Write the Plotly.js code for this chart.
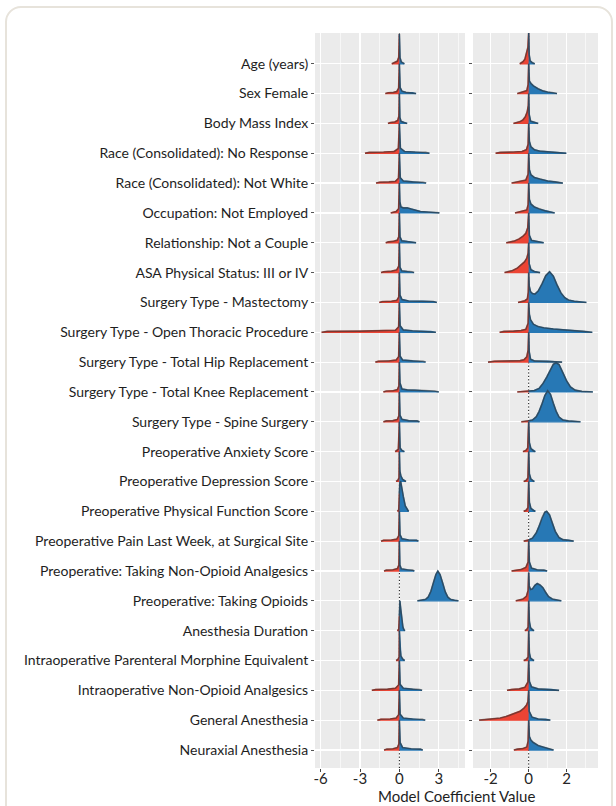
<!DOCTYPE html>
<html>
<head>
<meta charset="utf-8">
<script src="https://cdn.plot.ly/plotly-3.0.1.min.js"></script>
<style>
  html, body { margin: 0; padding: 0; background: #ffffff; width: 616px; height: 806px; overflow: hidden; }
  #card { position: absolute; left: 5px; top: 6px; width: 608px; height: 840px; box-sizing: border-box;
          border: 2px solid #e7e3db; border-radius: 16px; background: #ffffff; }
  #chart { position: absolute; left: 0; top: 0; width: 616px; height: 806px; }
</style>
</head>
<body>
<div id="card"></div>
<div id="chart"></div>
<script>
// ---------------- DATA ----------------
const labels = [
  "Age (years)",
  "Sex Female",
  "Body Mass Index",
  "Race (Consolidated): No Response",
  "Race (Consolidated): Not White",
  "Occupation: Not Employed",
  "Relationship: Not a Couple",
  "ASA Physical Status: III or IV",
  "Surgery Type - Mastectomy",
  "Surgery Type - Open Thoracic Procedure",
  "Surgery Type - Total Hip Replacement",
  "Surgery Type - Total Knee Replacement",
  "Surgery Type - Spine Surgery",
  "Preoperative Anxiety Score",
  "Preoperative Depression Score",
  "Preoperative Physical Function Score",
  "Preoperative Pain Last Week, at Surgical Site",
  "Preoperative: Taking Non-Opioid Analgesics",
  "Preoperative: Taking Opioids",
  "Anesthesia Duration",
  "Intraoperative Parenteral Morphine Equivalent",
  "Intraoperative Non-Opioid Analgesics",
  "General Anesthesia",
  "Neuraxial Anesthesia"
];

// left panel ridges: [coefficient, relative density height]
const leftRidges = [
  [[-0.58,0],[-0.45,0.03],[-0.3,0.05],[-0.15,0.09],[-0.05,0.22],[0,1.0],[0.05,0.2],[0.15,0.06],[0.28,0.03],[0.38,0]],
  [[-1.07,0],[-0.85,0.03],[-0.45,0.04],[-0.2,0.07],[-0.06,0.18],[0,1.0],[0.06,0.2],[0.2,0.08],[0.5,0.04],[1.0,0.03],[1.27,0]],
  [[-0.87,0],[-0.7,0.03],[-0.35,0.05],[-0.13,0.1],[-0.04,0.24],[0,1.0],[0.04,0.2],[0.13,0.07],[0.35,0.03],[0.59,0]],
  [[-2.62,0],[-2.3,0.03],[-1.2,0.04],[-0.4,0.06],[-0.08,0.16],[0,1.0],[0.08,0.17],[0.4,0.06],[1.2,0.04],[2.0,0.03],[2.29,0]],
  [[-1.78,0],[-1.5,0.03],[-0.8,0.04],[-0.3,0.06],[-0.07,0.16],[0,1.0],[0.07,0.18],[0.3,0.07],[1.0,0.04],[1.8,0.03],[2.04,0]],
  [[-0.66,0],[-0.5,0.03],[-0.25,0.05],[-0.06,0.14],[0,1.0],[0.04,0.38],[0.12,0.2],[0.3,0.17],[0.6,0.17],[0.9,0.13],[1.2,0.09],[1.6,0.05],[2.2,0.03],[2.8,0.02],[3.05,0]],
  [[-1.04,0],[-0.85,0.03],[-0.45,0.05],[-0.15,0.09],[-0.05,0.2],[0,1.0],[0.05,0.2],[0.18,0.07],[0.6,0.04],[1.05,0.03],[1.27,0]],
  [[-1.4,0],[-1.2,0.03],[-0.6,0.05],[-0.2,0.09],[-0.05,0.22],[0,1.0],[0.05,0.18],[0.18,0.06],[0.6,0.04],[0.95,0.03],[1.12,0]],
  [[-1.53,0],[-1.3,0.03],[-0.6,0.04],[-0.2,0.07],[-0.05,0.18],[0,1.0],[0.05,0.25],[0.2,0.1],[0.7,0.05],[1.8,0.04],[2.6,0.03],[2.85,0]],
  [[-5.93,0],[-5.5,0.03],[-3.0,0.04],[-1.0,0.05],[-0.3,0.07],[-0.06,0.18],[0,1.0],[0.06,0.22],[0.3,0.08],[1.0,0.05],[2.4,0.03],[2.78,0]],
  [[-1.83,0],[-1.6,0.03],[-0.8,0.04],[-0.25,0.07],[-0.06,0.18],[0,1.0],[0.06,0.2],[0.25,0.07],[1.0,0.04],[1.8,0.03],[2.0,0]],
  [[-1.22,0],[-1.0,0.03],[-0.5,0.04],[-0.15,0.08],[-0.04,0.2],[0,1.0],[0.05,0.3],[0.2,0.1],[0.6,0.07],[1.2,0.06],[1.8,0.04],[2.7,0.03],[3.0,0]],
  [[-1.22,0],[-1.0,0.03],[-0.5,0.04],[-0.15,0.08],[-0.04,0.2],[0,1.0],[0.05,0.22],[0.2,0.08],[0.7,0.04],[1.35,0.03],[1.53,0]],
  [[-0.32,0],[-0.2,0.03],[-0.08,0.08],[0,1.0],[0.06,0.12],[0.2,0.04],[0.38,0]],
  [[-0.25,0],[-0.12,0.04],[-0.03,0.12],[0,1.0],[0.04,0.35],[0.12,0.18],[0.25,0.07],[0.4,0.03],[0.5,0]],
  [[-0.15,0],[-0.05,0.05],[0,0.6],[0.03,0.95],[0.1,1.0],[0.2,0.8],[0.3,0.5],[0.45,0.18],[0.6,0.04],[0.7,0]],
  [[-1.4,0],[-1.2,0.03],[-0.6,0.04],[-0.2,0.07],[-0.05,0.18],[0,1.0],[0.05,0.22],[0.2,0.08],[0.7,0.04],[1.3,0.03],[1.45,0]],
  [[-1.17,0],[-1.0,0.03],[-0.5,0.04],[-0.15,0.08],[-0.04,0.2],[0,1.0],[0.04,0.2],[0.15,0.07],[0.6,0.04],[1.0,0.03],[1.14,0]],
  [[1.37,0],[1.6,0.02],[2.0,0.05],[2.2,0.13],[2.4,0.32],[2.6,0.62],[2.78,0.88],[2.93,1.0],[3.1,0.88],[3.3,0.6],[3.5,0.3],[3.7,0.12],[3.9,0.05],[4.2,0.02],[4.5,0]],
  [[-0.15,0],[-0.05,0.05],[0,0.5],[0.04,1.0],[0.1,0.75],[0.18,0.4],[0.27,0.12],[0.35,0.03],[0.42,0]],
  [[-0.25,0],[-0.1,0.04],[-0.02,0.12],[0,1.0],[0.05,0.4],[0.12,0.15],[0.25,0.05],[0.4,0]],
  [[-2.1,0],[-1.8,0.03],[-0.9,0.04],[-0.3,0.07],[-0.06,0.18],[0,1.0],[0.06,0.2],[0.3,0.07],[1.0,0.04],[1.55,0.03],[1.73,0]],
  [[-1.68,0],[-1.4,0.03],[-0.7,0.04],[-0.25,0.07],[-0.06,0.18],[0,1.0],[0.06,0.2],[0.3,0.07],[1.0,0.04],[1.75,0.03],[1.97,0]],
  [[-1.17,0],[-0.95,0.03],[-0.5,0.04],[-0.15,0.08],[-0.04,0.2],[0,1.0],[0.06,0.25],[0.25,0.08],[0.9,0.04],[1.6,0.03],[1.78,0]]
];

// right panel ridges
const rightRidges = [
  [[-0.47,0],[-0.4,0.03],[-0.3,0.07],[-0.2,0.15],[-0.1,0.37],[-0.04,0.55],[0,1.05],[0.03,0.3],[0.08,0.1],[0.18,0.04],[0.32,0]],
  [[-0.6,0],[-0.45,0.03],[-0.25,0.05],[-0.1,0.1],[-0.03,0.3],[0,1.0],[0.04,0.42],[0.12,0.34],[0.25,0.26],[0.5,0.16],[0.75,0.09],[1.0,0.05],[1.3,0.03],[1.49,0]],
  [[-0.8,0],[-0.65,0.03],[-0.45,0.06],[-0.3,0.12],[-0.18,0.22],[-0.08,0.38],[-0.02,0.6],[0,1.0],[0.03,0.3],[0.1,0.08],[0.3,0.03],[0.5,0]],
  [[-1.74,0],[-1.5,0.03],[-0.8,0.04],[-0.35,0.06],[-0.12,0.12],[-0.03,0.3],[0,1.0],[0.04,0.4],[0.12,0.22],[0.3,0.12],[0.6,0.07],[1.0,0.05],[1.6,0.03],[1.98,0]],
  [[-0.9,0],[-0.7,0.03],[-0.4,0.05],[-0.15,0.1],[-0.03,0.3],[0,1.0],[0.04,0.45],[0.12,0.28],[0.3,0.19],[0.6,0.13],[1.0,0.07],[1.4,0.04],[1.8,0]],
  [[-0.72,0],[-0.55,0.03],[-0.3,0.05],[-0.1,0.1],[-0.03,0.28],[0,1.0],[0.04,0.45],[0.12,0.3],[0.3,0.2],[0.55,0.13],[0.85,0.07],[1.1,0.04],[1.37,0]],
  [[-1.18,0],[-1.0,0.03],[-0.75,0.06],[-0.5,0.13],[-0.3,0.22],[-0.15,0.32],[-0.05,0.5],[0,1.0],[0.04,0.25],[0.15,0.08],[0.4,0.04],[0.79,0]],
  [[-1.27,0],[-1.1,0.03],[-0.85,0.07],[-0.6,0.15],[-0.4,0.26],[-0.22,0.36],[-0.1,0.48],[-0.03,0.65],[0,1.0],[0.03,0.3],[0.12,0.1],[0.3,0.04],[0.6,0]],
  [[-0.56,0],[-0.4,0.03],[-0.2,0.06],[-0.07,0.12],[-0.02,0.35],[0,1.0],[0.03,0.55],[0.1,0.36],[0.2,0.3],[0.33,0.28],[0.5,0.38],[0.7,0.62],[0.9,0.9],[1.1,1.03],[1.3,0.88],[1.5,0.58],[1.7,0.32],[1.9,0.16],[2.1,0.08],[2.4,0.04],[2.8,0.02],[3.04,0]],
  [[-1.53,0],[-1.3,0.03],[-0.8,0.04],[-0.4,0.06],[-0.15,0.1],[-0.03,0.3],[0,1.0],[0.04,0.6],[0.1,0.42],[0.25,0.27],[0.5,0.19],[0.8,0.15],[1.3,0.11],[1.8,0.09],[2.4,0.05],[2.9,0.03],[3.35,0]],
  [[-2.14,0],[-1.8,0.03],[-1.0,0.04],[-0.45,0.05],[-0.25,0.08],[-0.1,0.18],[-0.03,0.4],[0,1.0],[0.03,0.35],[0.1,0.1],[0.3,0.04],[1.0,0.03],[1.76,0]],
  [[-0.6,0],[-0.3,0.02],[0,0.03],[0.3,0.05],[0.55,0.12],[0.75,0.28],[0.95,0.5],[1.15,0.78],[1.3,0.93],[1.45,0.98],[1.6,0.92],[1.8,0.65],[2.0,0.37],[2.2,0.17],[2.45,0.06],[2.8,0.02],[3.38,0]],
  [[-0.39,0],[-0.2,0.02],[0,0.03],[0.2,0.06],[0.4,0.17],[0.55,0.35],[0.7,0.6],[0.85,0.88],[1.0,1.04],[1.15,0.92],[1.3,0.62],[1.45,0.35],[1.6,0.16],[1.8,0.06],[2.1,0.03],[2.73,0]],
  [[-0.3,0],[-0.15,0.04],[-0.05,0.12],[0,1.0],[0.04,0.3],[0.12,0.1],[0.25,0.03],[0.35,0]],
  [[-0.26,0],[-0.13,0.04],[-0.04,0.12],[0,1.0],[0.04,0.25],[0.12,0.08],[0.22,0.03],[0.3,0]],
  [[-0.26,0],[-0.13,0.04],[-0.04,0.12],[0,1.0],[0.04,0.3],[0.12,0.1],[0.25,0.03],[0.35,0]],
  [[-0.26,0],[-0.1,0.02],[0,0.04],[0.2,0.1],[0.4,0.28],[0.55,0.5],[0.7,0.78],[0.85,0.97],[0.95,1.0],[1.1,0.88],[1.25,0.6],[1.4,0.33],[1.6,0.12],[1.8,0.05],[2.1,0.03],[2.37,0]],
  [[-0.9,0],[-0.7,0.03],[-0.4,0.05],[-0.15,0.12],[-0.03,0.3],[0,1.0],[0.04,0.3],[0.15,0.1],[0.45,0.04],[0.8,0.03],[0.97,0]],
  [[-0.68,0],[-0.5,0.03],[-0.3,0.06],[-0.12,0.15],[-0.03,0.35],[0,0.95],[0.03,0.5],[0.1,0.38],[0.2,0.4],[0.33,0.52],[0.45,0.58],[0.6,0.53],[0.75,0.44],[0.9,0.28],[1.05,0.14],[1.25,0.06],[1.5,0.03],[1.72,0]],
  [[-0.2,0],[-0.1,0.04],[-0.03,0.12],[0,1.0],[0.04,0.3],[0.1,0.1],[0.2,0.03],[0.28,0]],
  [[-0.26,0],[-0.12,0.04],[-0.03,0.12],[0,1.0],[0.04,0.25],[0.1,0.08],[0.2,0.03],[0.28,0]],
  [[-1.14,0],[-0.9,0.03],[-0.5,0.05],[-0.2,0.1],[-0.04,0.28],[0,1.0],[0.04,0.3],[0.15,0.12],[0.5,0.05],[1.2,0.03],[1.6,0]],
  [[-2.61,0],[-2.2,0.02],[-1.84,0.03],[-1.5,0.07],[-1.2,0.12],[-0.96,0.17],[-0.7,0.23],[-0.45,0.3],[-0.25,0.4],[-0.12,0.5],[-0.04,0.62],[0,1.0],[0.03,0.3],[0.18,0.1],[0.5,0.04],[0.9,0.03],[1.14,0]],
  [[-0.78,0],[-0.6,0.03],[-0.3,0.05],[-0.1,0.1],[-0.03,0.3],[0,1.0],[0.04,0.45],[0.12,0.33],[0.23,0.26],[0.5,0.15],[0.76,0.1],[1.0,0.05],[1.31,0]]
];

const leftTicks = [-6, -3, 0, 3];
const leftMinorTicks = [-4.5, -1.5, 1.5, 4.5];
const rightTicks = [-2, 0, 2];
const rightMinorTicks = [-1, 1, 3];
const xTitle = "Model Coefficient Value";

// ---------------- STYLE ----------------
const RED = '#EC4434';
const BLUE = '#2778B5';
const OUTLINE = 'rgba(45,45,45,0.58)';
const YMIN = -0.603, YMAX = 24.03;
const nRows = labels.length;

const traces = [];

function zeroLine(xa, ya) {
  traces.push({x: [0, 0], y: [YMIN, YMAX], xaxis: xa, yaxis: ya, mode: 'lines',
    line: {color: '#111', width: 1, dash: '1.2px,2.2px'}, hoverinfo: 'skip'});
}

function addRidges(ridges, xa, ya) {
  ridges.forEach((pts, i) => {
    const base = nRows - 1 - i;
    const xs = pts.map(p => p[0]);
    const hs = pts.map(p => p[1]);
    const neg = [], pos = [];
    for (let k = 0; k < xs.length; k++) {
      if (xs[k] <= 0) neg.push([xs[k], hs[k]]);
      if (xs[k] >= 0) pos.push([xs[k], hs[k]]);
    }
    if (neg.length && pos.length) {
      const a = neg[neg.length - 1], b = pos[0];
      if (a[0] < 0 && b[0] > 0) {
        const hz = a[1] + (b[1] - a[1]) * (0 - a[0]) / (b[0] - a[0]);
        neg.push([0, hz]); pos.unshift([0, hz]);
      }
    }
    [[neg, RED], [pos, BLUE]].forEach(([part, col]) => {
      if (part.length < 2) return;
      const px = part.map(p => p[0]);
      const py = part.map(p => base + p[1]);
      px.push(part[part.length - 1][0], part[0][0]);
      py.push(base, base);
      traces.push({x: px, y: py, xaxis: xa, yaxis: ya, mode: 'lines', fill: 'toself',
        fillcolor: col, line: {width: 1.3, color: col}, hoverinfo: 'skip'});
    });
    traces.push({x: xs, y: hs.map(h => base + h), xaxis: xa, yaxis: ya, mode: 'lines',
      line: {color: OUTLINE, width: 1.6}, hoverinfo: 'skip'});
  });
}

zeroLine('x', 'y');
zeroLine('x2', 'y2');
addRidges(leftRidges, 'x', 'y');
addRidges(rightRidges, 'x2', 'y2');

const rowVals = labels.map((_, i) => nRows - 1 - i);
const W = 616, H = 806;
const yDomain = [1 - 768 / H, 1 - 33 / H];

const commonX = {
  ticks: 'outside', ticklen: 3, tickcolor: '#444', tickwidth: 1,
  ticklabelstandoff: -6,
  showgrid: true, gridcolor: '#ffffff', gridwidth: 1.2,
  zeroline: false, showline: false, fixedrange: true,
  tickfont: {family: 'Lato', size: 15, color: '#262626'}
};

const layout = {
  width: W, height: H,
  margin: {l: 0, r: 0, t: 0, b: 0},
  paper_bgcolor: 'rgba(0,0,0,0)',
  plot_bgcolor: '#EBEBEB',
  showlegend: false,
  font: {family: 'Lato', color: '#222'},
  xaxis: Object.assign({}, commonX, {
    domain: [315 / W, 465 / W], range: [-6.43, 5.0], anchor: 'y',
    tickmode: 'array', tickvals: leftTicks, ticktext: leftTicks.map(String),
    minor: {tickmode: 'array', tickvals: leftMinorTicks, showgrid: true, gridcolor: '#ffffff', gridwidth: 0.6, ticks: ''}
  }),
  xaxis2: Object.assign({}, commonX, {
    domain: [473 / W, 598 / W], range: [-2.93, 3.65], anchor: 'y2',
    tickmode: 'array', tickvals: rightTicks, ticktext: rightTicks.map(String),
    minor: {tickmode: 'array', tickvals: rightMinorTicks, showgrid: true, gridcolor: '#ffffff', gridwidth: 0.6, ticks: ''}
  }),
  yaxis: {
    domain: yDomain, range: [YMIN, YMAX], anchor: 'x',
    tickmode: 'array', tickvals: rowVals, ticktext: labels,
    ticks: 'outside', ticklen: 3, tickcolor: '#555', tickwidth: 1,
    showgrid: true, gridcolor: '#ffffff', gridwidth: 1.2,
    zeroline: false, showline: false, fixedrange: true,
    tickfont: {family: 'Lato', size: 14, color: '#1e1e1e'}
  },
  yaxis2: {
    domain: yDomain, range: [YMIN, YMAX], anchor: 'x2', matches: 'y',
    tickmode: 'array', tickvals: rowVals, showticklabels: false,
    ticks: 'outside', ticklen: 3, tickcolor: '#555', tickwidth: 1,
    showgrid: true, gridcolor: '#ffffff', gridwidth: 1.2,
    zeroline: false, showline: false, fixedrange: true
  },
  annotations: [{
    text: xTitle, xref: 'paper', yref: 'paper', x: 456.5 / W, y: 1 - 796 / H,
    xanchor: 'center', yanchor: 'middle', showarrow: false,
    font: {family: 'Lato', size: 15, color: '#1e1e1e'}
  }]
};

Plotly.newPlot('chart', traces, layout, {displayModeBar: false, staticPlot: true});
</script>
</body>
</html>
